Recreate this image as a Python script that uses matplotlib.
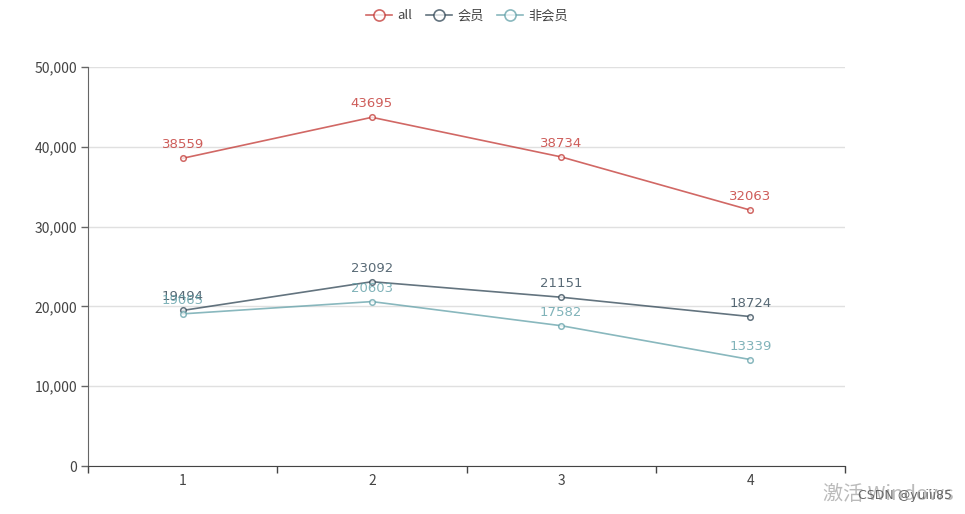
import matplotlib
matplotlib.use("Agg")
import matplotlib.pyplot as plt
from matplotlib.lines import Line2D

plt.rcParams['font.family'] = ['Noto Sans CJK SC', 'DejaVu Sans']

categories = ["1", "2", "3", "4"]
series_names = ["all", "会员", "非会员"]
all_vals = [38559, 43695, 38734, 32063]
member_vals = [19494, 23092, 21151, 18724]
nonmember_vals = [19065, 20603, 17582, 13339]
y_ticks = [0, 10000, 20000, 30000, 40000, 50000]

colors = ["#c23531", "#2f4554", "#61a0a8"]
line_alpha = 0.75

fig = plt.figure(figsize=(9.65, 5.14), dpi=100)
ax = fig.add_axes([88/965, 1-466/514, (845-88)/965, (466-67)/514])

x = list(range(len(categories)))
for vals, c, name in zip([all_vals, member_vals, nonmember_vals], colors, series_names):
    ax.plot(x, vals, color=c, alpha=line_alpha, lw=1.2, marker='o', ms=4,
            mfc='white', mec=c, mew=1.1, zorder=3)
    for xi, v in zip(x, vals):
        ax.annotate(str(v), (xi, v), xytext=(0, 5), textcoords='offset points',
                    ha='center', va='bottom', fontsize=9.5, color=c, alpha=0.8,
                    family=['DejaVu Sans'])

ax.set_xlim(-0.5, len(categories) - 0.5)
ax.set_ylim(0, 50000)
ax.set_yticks(y_ticks)
ax.set_yticklabels([f"{t:,}" for t in y_ticks])
ax.set_xticks(x)
ax.set_xticklabels(categories)
ax.set_xticks([i - 0.5 for i in range(len(categories) + 1)], minor=True)
ax.tick_params(axis='x', which='major', length=0, pad=6, labelsize=10, colors='#444444')
ax.tick_params(axis='x', which='minor', length=5, color='#444444', width=1)
ax.tick_params(axis='y', length=5, color='#666666', width=1, labelsize=10, labelcolor='#444444', pad=3)
ax.grid(axis='y', color='#e0e0e0', lw=1)
ax.set_axisbelow(True)
for s in ['top', 'right']:
    ax.spines[s].set_visible(False)
ax.spines['left'].set_color('#666666')
ax.spines['bottom'].set_color('#444444')

handles = [Line2D([0], [0], color=c, alpha=line_alpha, lw=1.2, marker='o', ms=8,
                  mfc='white', mec=c, mew=1.2) for c in colors]
fig.legend(handles, series_names, loc='upper center', bbox_to_anchor=(0.484, 1.005),
           ncol=3, frameon=False, fontsize=9.5, handlelength=2.0, handletextpad=0.4,
           columnspacing=1.0, labelcolor='#444444')

fig.text(823/965, 1-494/514, "激活 Windows", fontsize=14.5, color='#bbbbbb', va='center', ha='left')
fig.text(858/965, 1-496/514, "CSDN @yuiii85", fontsize=9, color='#666666', va='center', ha='left',
         family=['DejaVu Sans'])

fig.savefig("out.png", dpi=100)
